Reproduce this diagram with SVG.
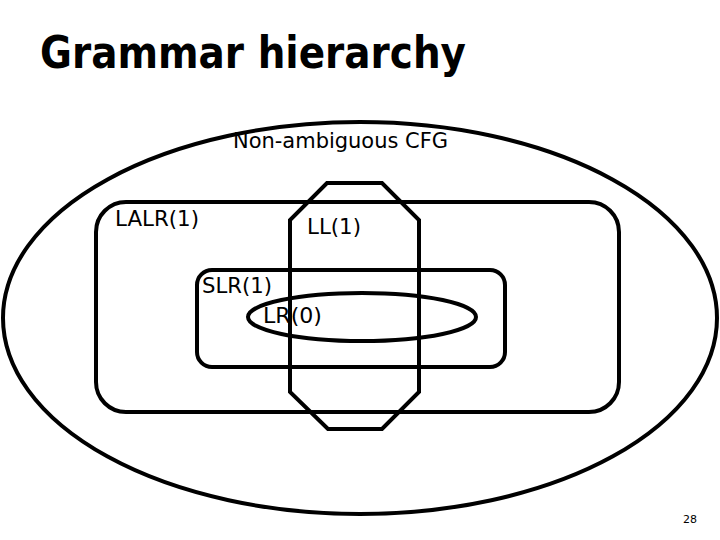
<svg xmlns="http://www.w3.org/2000/svg" width="720" height="540" viewBox="0 0 720 540">
<style>
.s{fill:none;stroke:#000;stroke-width:4}
.t{font-family:"DejaVu Sans",Verdana,sans-serif;font-size:22px;fill:#000}
</style>
<rect width="720" height="540" fill="#fff"/>
<text x="40" y="68" font-family="DejaVu Sans,Verdana,sans-serif" font-weight="bold" font-size="44" textLength="426" lengthAdjust="spacingAndGlyphs">Grammar hierarchy</text>
<g id="cfg"><ellipse class="s" cx="360" cy="318" rx="357" ry="196"/><text class="t" x="233" y="148" textLength="215" lengthAdjust="spacingAndGlyphs">Non-ambiguous CFG</text></g>
<g id="lalr"><rect class="s" x="96" y="202" width="523" height="210" rx="30"/><text class="t" x="115" y="226" textLength="84" lengthAdjust="spacingAndGlyphs">LALR(1)</text></g>
<g id="ll"><polygon class="s" points="327,183 382,183 419,220 419,392 382,429 328,429 290,392 290,220"/><text class="t" x="307" y="234" textLength="54" lengthAdjust="spacingAndGlyphs">LL(1)</text></g>
<g id="slr"><rect class="s" x="197" y="270" width="308" height="97" rx="15"/><text class="t" x="202" y="293" textLength="70" lengthAdjust="spacingAndGlyphs">SLR(1)</text></g>
<g id="lr0"><ellipse class="s" cx="362" cy="317" rx="114" ry="24"/><text class="t" x="263" y="323" textLength="59" lengthAdjust="spacingAndGlyphs">LR(0)</text></g>
<g id="connectors"></g>
<text x="683" y="523" font-family="DejaVu Sans,Verdana,sans-serif" font-size="11">28</text>
</svg>
